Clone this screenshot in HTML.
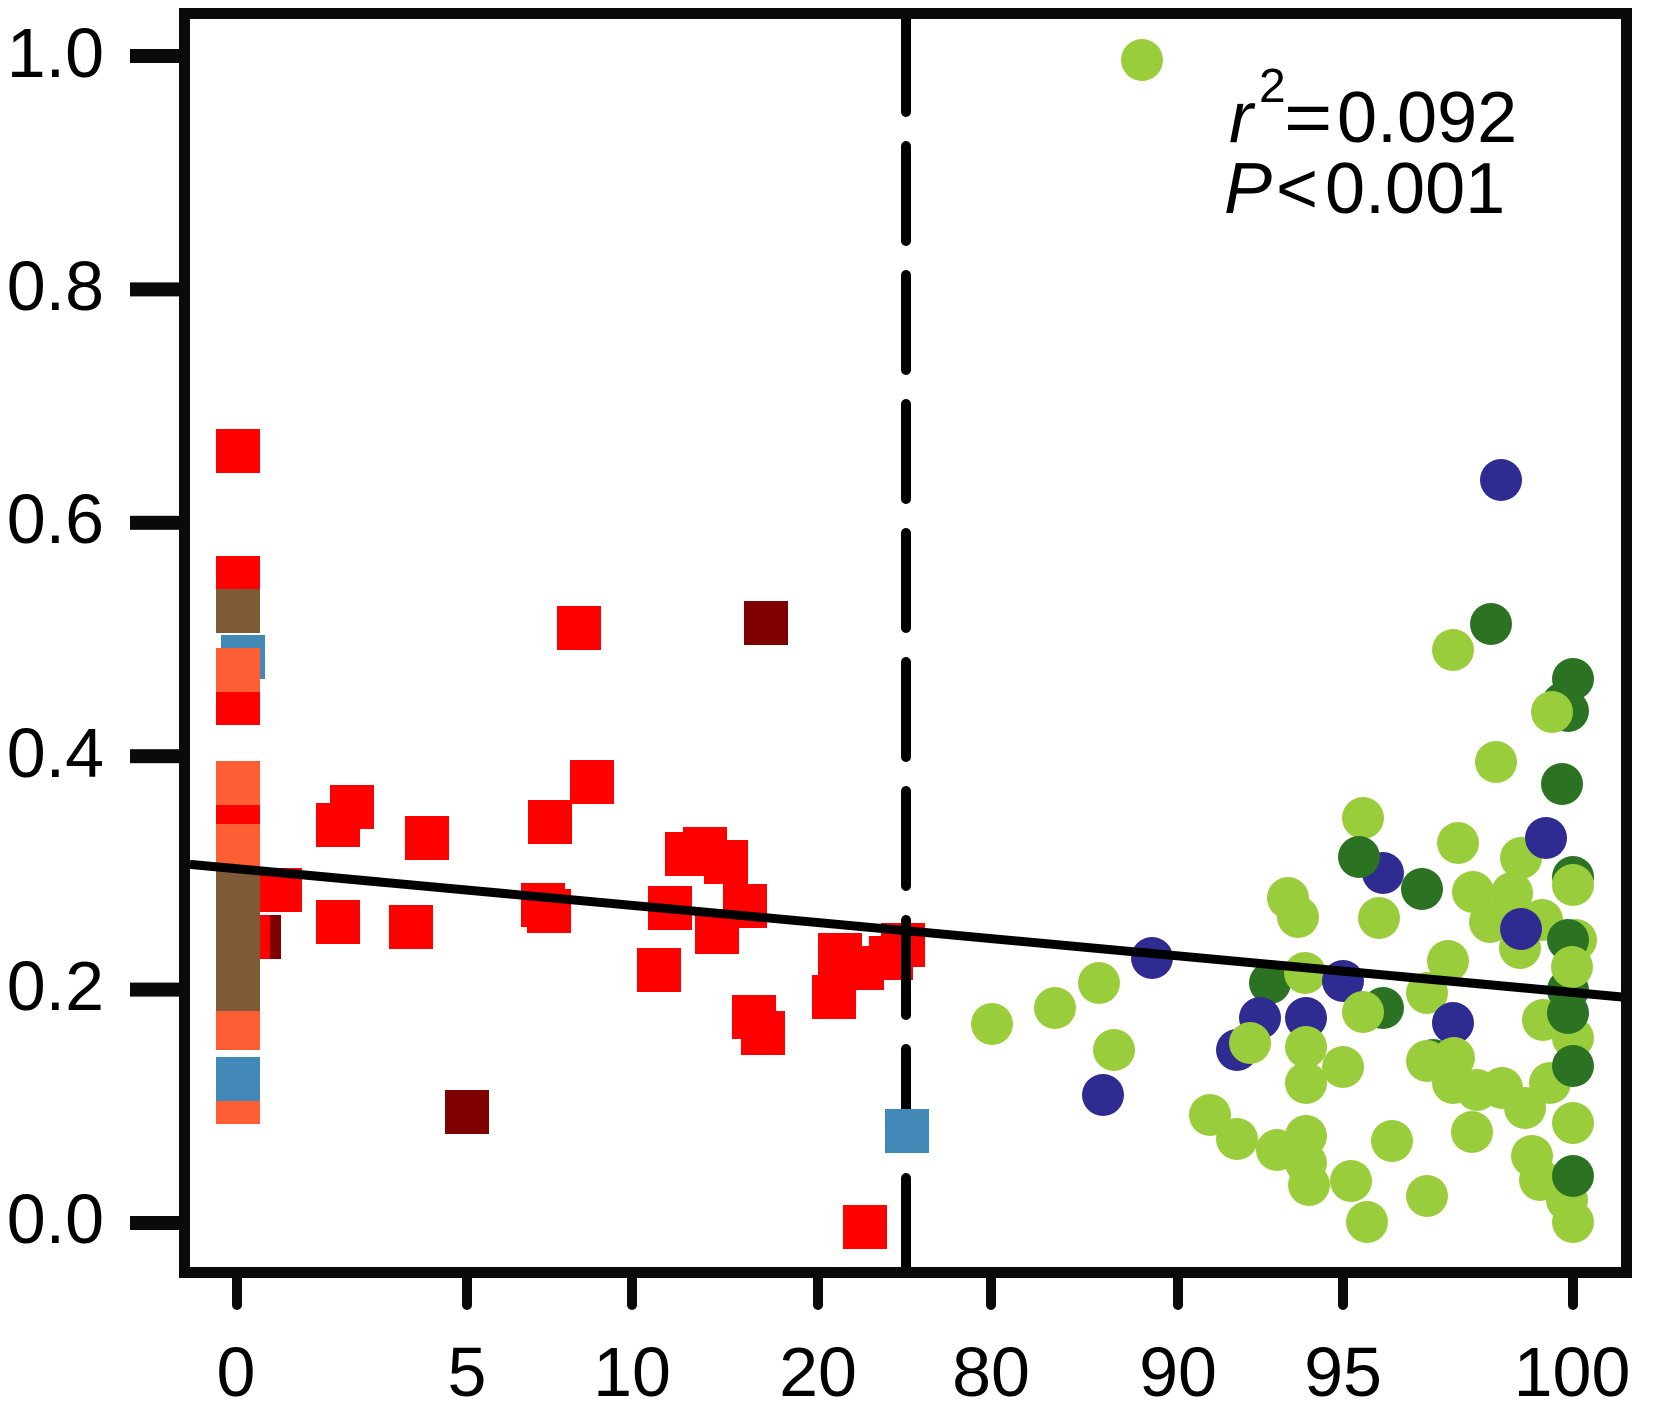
<!DOCTYPE html>
<html><head><meta charset="utf-8"><style>
html,body{margin:0;padding:0;background:#fff;}
svg{display:block;}
text{font-family:"Liberation Sans",Arial,sans-serif;fill:#000;}
</style></head><body>
<svg width="1653" height="1407" viewBox="0 0 1653 1407" xmlns="http://www.w3.org/2000/svg">
<rect width="1653" height="1407" fill="#fff"/>
<!-- squares left column -->
<g>
<rect x="216" y="429" width="44" height="44" fill="#fe0000"/>
<rect x="216" y="556" width="44" height="44" fill="#fe0000"/>
<rect x="216" y="589" width="44" height="44" fill="#7f5a37"/>
<rect x="221" y="635" width="44" height="44" fill="#4289b8"/>
<rect x="216" y="681" width="44" height="44" fill="#fe0000"/>
<rect x="216" y="648" width="44" height="44" fill="#fd5e34"/>
<rect x="216" y="761" width="44" height="44" fill="#fd5e34"/>
<rect x="216" y="805" width="44" height="44" fill="#fe0000"/>
<rect x="216" y="824" width="44" height="44" fill="#fd5e34"/>
<rect x="258" y="868" width="44" height="44" fill="#fe0000"/>
<rect x="237" y="915" width="44" height="44" fill="#800000"/>
<rect x="226" y="915" width="44" height="44" fill="#fe0000"/>
<rect x="216" y="1080" width="44" height="44" fill="#fd5e34"/>
<rect x="216" y="1006" width="44" height="44" fill="#fd5e34"/>
<rect x="216" y="869" width="44" height="44" fill="#7f5a37"/>
<rect x="216" y="912" width="44" height="44" fill="#7f5a37"/>
<rect x="216" y="952" width="44" height="44" fill="#7f5a37"/>
<rect x="216" y="967" width="44" height="44" fill="#7f5a37"/>
<rect x="216" y="1057" width="44" height="44" fill="#4289b8"/>
</g>
<!-- other squares -->
<g fill="#fe0000">
<rect x="330" y="785" width="44" height="44"/>
<rect x="316" y="803" width="44" height="44"/>
<rect x="405" y="816" width="44" height="44"/>
<rect x="570" y="760" width="44" height="44"/>
<rect x="528" y="800" width="44" height="44"/>
<rect x="557" y="606" width="44" height="44"/>
<rect x="665" y="832" width="44" height="44"/>
<rect x="683" y="827" width="44" height="44"/>
<rect x="704" y="840" width="44" height="44"/>
<rect x="723" y="884" width="44" height="44"/>
<rect x="648" y="886" width="44" height="44"/>
<rect x="695" y="910" width="44" height="44"/>
<rect x="316" y="900" width="44" height="44"/>
<rect x="389" y="905" width="44" height="44"/>
<rect x="521" y="883" width="44" height="44"/>
<rect x="527" y="889" width="44" height="44"/>
<rect x="637" y="948" width="44" height="44"/>
<rect x="732" y="995" width="44" height="44"/>
<rect x="741" y="1011" width="44" height="44"/>
<rect x="818" y="933" width="44" height="44"/>
<rect x="812" y="975" width="44" height="44"/>
<rect x="840" y="946" width="44" height="44"/>
<rect x="869" y="936" width="44" height="44"/>
<rect x="881" y="923" width="44" height="44"/>
<rect x="843" y="1205" width="44" height="44"/>
</g>
<rect x="744" y="601" width="44" height="44" fill="#800000"/>
<rect x="445" y="1090" width="44" height="44" fill="#800000"/>
<!-- circles -->
<g>
<circle cx="1142" cy="60" r="21" fill="#9acd3b"/>
<circle cx="1501" cy="480" r="21" fill="#2e2b91"/>
<circle cx="1453" cy="650" r="21" fill="#9acd3b"/>
<circle cx="1491" cy="624" r="21" fill="#2b7322"/>
<circle cx="1573" cy="679" r="21" fill="#2b7322"/>
<circle cx="1563" cy="703" r="21" fill="#2b7322"/>
<circle cx="1568" cy="711" r="21" fill="#2b7322"/>
<circle cx="1552" cy="712" r="21" fill="#9acd3b"/>
<circle cx="1496" cy="762" r="21" fill="#9acd3b"/>
<circle cx="1562" cy="784" r="21" fill="#2b7322"/>
<circle cx="1363" cy="818" r="21" fill="#9acd3b"/>
<circle cx="1458" cy="843" r="21" fill="#9acd3b"/>
<circle cx="1383" cy="873" r="21" fill="#2e2b91"/>
<circle cx="1359" cy="857" r="21" fill="#2b7322"/>
<circle cx="1422" cy="889" r="21" fill="#2b7322"/>
<circle cx="1521" cy="858" r="21" fill="#9acd3b"/>
<circle cx="1546" cy="838" r="21" fill="#2e2b91"/>
<circle cx="1573" cy="877" r="21" fill="#2b7322"/>
<circle cx="1573" cy="885" r="21" fill="#9acd3b"/>
<circle cx="1288" cy="898" r="21" fill="#9acd3b"/>
<circle cx="1298" cy="917" r="21" fill="#9acd3b"/>
<circle cx="1379" cy="918" r="21" fill="#9acd3b"/>
<circle cx="1473" cy="892" r="21" fill="#9acd3b"/>
<circle cx="1512" cy="893" r="21" fill="#9acd3b"/>
<circle cx="1490" cy="922" r="21" fill="#9acd3b"/>
<circle cx="1542" cy="920" r="21" fill="#9acd3b"/>
<circle cx="1520" cy="948" r="21" fill="#9acd3b"/>
<circle cx="1521" cy="929" r="21" fill="#2e2b91"/>
<circle cx="1576" cy="940" r="21" fill="#9acd3b"/>
<circle cx="1568" cy="940" r="21" fill="#2b7322"/>
<circle cx="1448" cy="961" r="21" fill="#9acd3b"/>
<circle cx="1568" cy="990" r="21" fill="#2b7322"/>
<circle cx="1572" cy="967" r="21" fill="#9acd3b"/>
<circle cx="1270" cy="983" r="21" fill="#2b7322"/>
<circle cx="1305" cy="973" r="21" fill="#9acd3b"/>
<circle cx="1343" cy="981" r="21" fill="#2e2b91"/>
<circle cx="1383" cy="1008" r="21" fill="#2b7322"/>
<circle cx="1363" cy="1012" r="21" fill="#9acd3b"/>
<circle cx="1427" cy="993" r="21" fill="#9acd3b"/>
<circle cx="1573" cy="1038" r="21" fill="#9acd3b"/>
<circle cx="1543" cy="1020" r="21" fill="#9acd3b"/>
<circle cx="1568" cy="1013" r="21" fill="#2b7322"/>
<circle cx="1260" cy="1018" r="21" fill="#2e2b91"/>
<circle cx="1306" cy="1018" r="21" fill="#2e2b91"/>
<circle cx="1453" cy="1023" r="21" fill="#2e2b91"/>
<circle cx="1237" cy="1050" r="21" fill="#2e2b91"/>
<circle cx="1250" cy="1043" r="21" fill="#9acd3b"/>
<circle cx="1306" cy="1047" r="21" fill="#9acd3b"/>
<circle cx="1343" cy="1067" r="21" fill="#9acd3b"/>
<circle cx="1306" cy="1083" r="21" fill="#9acd3b"/>
<circle cx="1433" cy="1060" r="21" fill="#2b7322"/>
<circle cx="1427" cy="1061" r="21" fill="#9acd3b"/>
<circle cx="1454" cy="1058" r="21" fill="#9acd3b"/>
<circle cx="1453" cy="1083" r="21" fill="#9acd3b"/>
<circle cx="1477" cy="1090" r="21" fill="#9acd3b"/>
<circle cx="1502" cy="1088" r="21" fill="#9acd3b"/>
<circle cx="1525" cy="1108" r="21" fill="#9acd3b"/>
<circle cx="1550" cy="1083" r="21" fill="#9acd3b"/>
<circle cx="1573" cy="1066" r="21" fill="#2b7322"/>
<circle cx="1210" cy="1115" r="21" fill="#9acd3b"/>
<circle cx="1237" cy="1139" r="21" fill="#9acd3b"/>
<circle cx="1277" cy="1150" r="21" fill="#9acd3b"/>
<circle cx="1306" cy="1136" r="21" fill="#9acd3b"/>
<circle cx="1306" cy="1163" r="21" fill="#9acd3b"/>
<circle cx="1309" cy="1185" r="21" fill="#9acd3b"/>
<circle cx="1392" cy="1141" r="21" fill="#9acd3b"/>
<circle cx="1472" cy="1132" r="21" fill="#9acd3b"/>
<circle cx="1573" cy="1123" r="21" fill="#9acd3b"/>
<circle cx="1532" cy="1156" r="21" fill="#9acd3b"/>
<circle cx="1540" cy="1180" r="21" fill="#9acd3b"/>
<circle cx="1567" cy="1200" r="21" fill="#9acd3b"/>
<circle cx="1573" cy="1222" r="21" fill="#9acd3b"/>
<circle cx="1573" cy="1176" r="21" fill="#2b7322"/>
<circle cx="1351" cy="1181" r="21" fill="#9acd3b"/>
<circle cx="1427" cy="1196" r="21" fill="#9acd3b"/>
<circle cx="1367" cy="1222" r="21" fill="#9acd3b"/>
<circle cx="992" cy="1024" r="21" fill="#9acd3b"/>
<circle cx="1055" cy="1008" r="21" fill="#9acd3b"/>
<circle cx="1099" cy="983" r="21" fill="#9acd3b"/>
<circle cx="1152" cy="958" r="21" fill="#2e2b91"/>
<circle cx="1114" cy="1050" r="21" fill="#9acd3b"/>
<circle cx="1103" cy="1095" r="21" fill="#2e2b91"/>
</g>
<!-- dashed vertical line -->
<line x1="906" y1="17" x2="906" y2="1267" stroke="#000" stroke-width="10" stroke-dasharray="95 34" stroke-linecap="round"/>
<rect x="885" y="1109" width="44" height="44" fill="#4289b8"/>
<!-- regression line -->
<line x1="190" y1="864.4" x2="1626" y2="997.4" stroke="#000" stroke-width="9"/>
<!-- frame -->
<rect x="184.5" y="13.5" width="1442" height="1259" fill="none" stroke="#0a0a0a" stroke-width="11"/>
<!-- y ticks -->
<g fill="#0a0a0a">
<rect x="130" y="49" width="55" height="14"/>
<rect x="130" y="282.4" width="55" height="14"/>
<rect x="130" y="515.8" width="55" height="14"/>
<rect x="130" y="749.2" width="55" height="14"/>
<rect x="130" y="982.6" width="55" height="14"/>
<rect x="130" y="1216" width="55" height="14"/>
</g>
<g font-size="70" text-anchor="end">
<text x="104" y="77">1.0</text>
<text x="104" y="310">0.8</text>
<text x="104" y="543">0.6</text>
<text x="104" y="777">0.4</text>
<text x="104" y="1010">0.2</text>
<text x="104" y="1243">0.0</text>
</g>
<!-- x ticks -->
<g stroke="#0a0a0a" stroke-width="10" stroke-linecap="round">
<line x1="237" y1="1273" x2="237" y2="1305"/>
<line x1="467" y1="1273" x2="467" y2="1305"/>
<line x1="632" y1="1273" x2="632" y2="1305"/>
<line x1="818" y1="1273" x2="818" y2="1305"/>
<line x1="991" y1="1273" x2="991" y2="1305"/>
<line x1="1178" y1="1273" x2="1178" y2="1305"/>
<line x1="1343" y1="1273" x2="1343" y2="1305"/>
<line x1="1573" y1="1273" x2="1573" y2="1305"/>
</g>
<g font-size="70" text-anchor="middle">
<text x="236" y="1396">0</text>
<text x="467" y="1396">5</text>
<text x="632" y="1396">10</text>
<text x="818" y="1396">20</text>
<text x="991" y="1396">80</text>
<text x="1178" y="1396">90</text>
<text x="1343" y="1396">95</text>
<text x="1572" y="1396">100</text>
</g>
<!-- annotation -->
<text x="1229" y="142" font-size="72" font-style="italic">r</text>
<text x="1259" y="102" font-size="48">2</text>
<text x="1284" y="142" font-size="72" transform="translate(1284 0) scale(1.15 1) translate(-1284 0)">=</text>
<text x="1337" y="142" font-size="72">0.092</text>
<text x="1224" y="213" font-size="72" font-style="italic">P</text>
<text x="1276" y="213" font-size="72">&lt;</text>
<text x="1325" y="213" font-size="72">0.001</text>
</svg>
</body></html>
